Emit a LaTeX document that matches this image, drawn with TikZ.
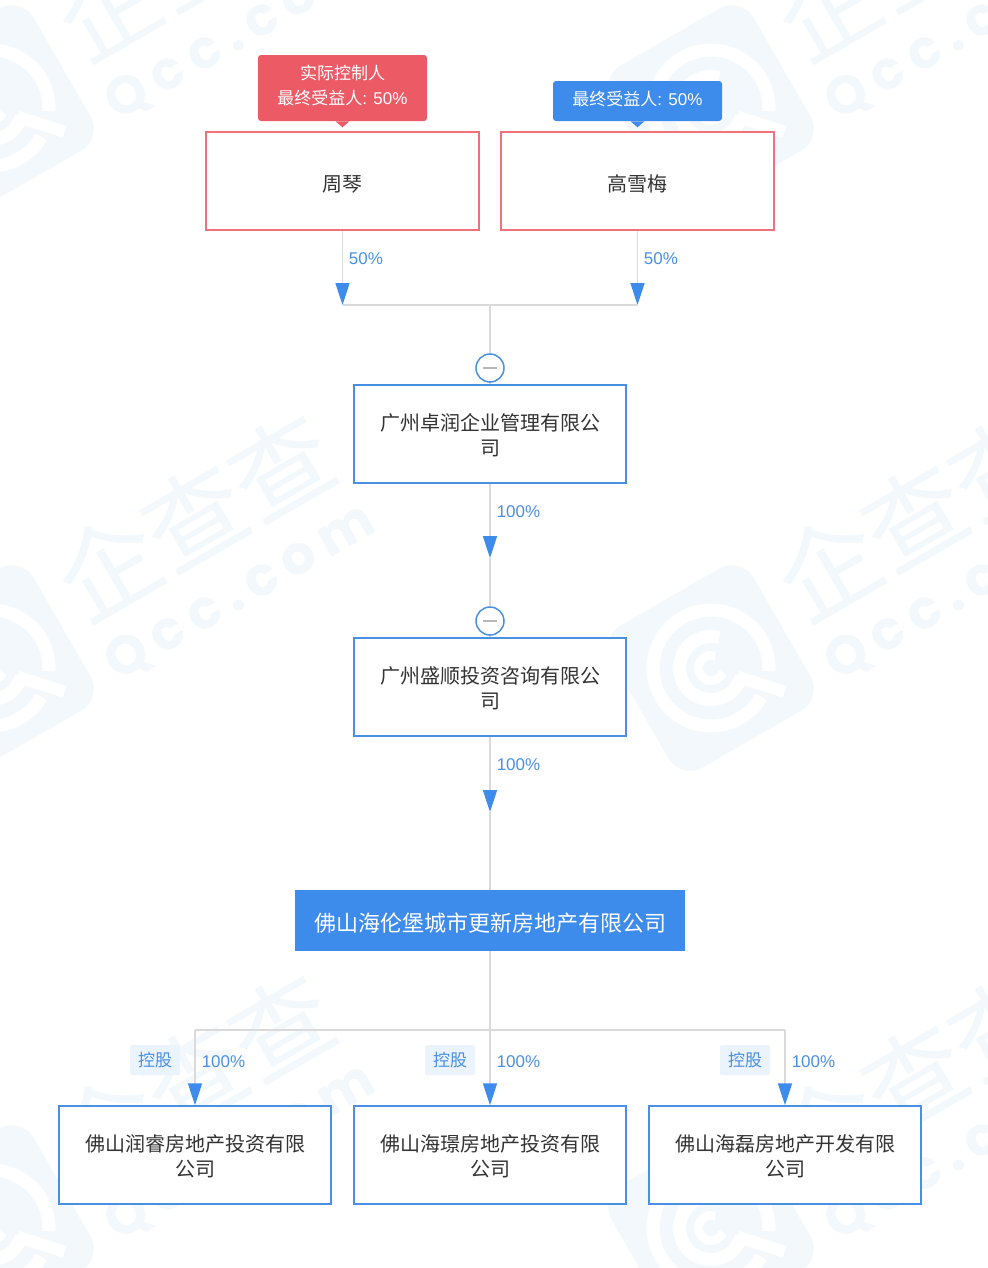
\documentclass[tikz,border=0pt]{standalone}
\usepackage{fontspec}
\setmainfont{Liberation Sans}
\newfontfamily\cjk{Noto Sans CJK SC}
\newfontfamily\qccfont[LetterSpace=18]{Poppins}
\usetikzlibrary{positioning}
\usetikzlibrary{arrows.meta}
\pgfdeclarelayer{markbg}
\pgfdeclarelayer{linkbg}
\pgfsetlayers{markbg,linkbg,main}
\definecolor{paleblue}{HTML}{F3F8FD}
\definecolor{boxblue}{HTML}{4A90E2}
\definecolor{tipblue}{HTML}{3D8BEA}
\definecolor{boxred}{HTML}{F0717D}
\definecolor{tagred}{HTML}{EC5A66}
\definecolor{linegray}{HTML}{DADADA}
\definecolor{minusgray}{HTML}{B8B8B8}
\definecolor{badgeblue}{HTML}{EBF3FC}
\tikzset{
	namebox/.style={line width=1.125pt, fill=white, minimum height=73.5pt, inner sep=0pt, align=center, text=black!80, font=\fontsize{15}{18.75}\selectfont\cjk},
	companybox/.style={namebox, draw=boxblue, minimum width=204pt, execute at begin node={\rule{0pt}{33.5pt}}},
	personbox/.style={namebox, draw=boxred, minimum width=204.75pt, execute at begin node={\rule{0pt}{17pt}}},
	targetbox/.style={fill=tipblue, text=white, minimum width=292.5pt, minimum height=45.75pt, inner sep=0pt, font=\fontsize{16.5}{20}\selectfont\cjk, execute at begin node={\rule{0pt}{18pt}}},
	owntag/.style={rounded corners=2.25pt, minimum width=126.75pt, inner sep=0pt, align=center, text=white, font=\fontsize{12.75}{19}\selectfont, execute at end node={\rule[-4.5pt]{0pt}{0pt}}},
	ratiolabel/.style={text=boxblue, inner sep=0pt, font=\fontsize{12.75}{15}\selectfont},
	holdbadge/.style={fill=badgeblue, rounded corners=1.5pt, minimum width=37.5pt, minimum height=22.5pt, inner sep=0pt, text=boxblue, font=\fontsize{12.75}{15}\selectfont\cjk},
	foldnode/.style={circle, draw=boxblue, line width=1.125pt, fill=white, minimum size=21pt, inner sep=0pt},
	flowline/.style={draw=linegray, line width=1.2pt},
	flowarrow/.style={flowline, -{Triangle[color=tipblue, length=16.5pt, width=10.5pt]}},
	qccmark/.pic={
		\fill[paleblue, rounded corners=19pt, rotate=30] (-82,-82) rectangle (82,82);
		\draw[white, line width=9.75pt] (-3:43.5pt) arc (-3:330:43.5pt);
		\draw[white, line width=9.75pt] (75:23.6pt) arc (75:345:23.6pt);
		\draw[white, line width=6.5pt] (70:9.4pt) arc (70:340:9.4pt);
		\draw[white, line width=9pt] (-18:21pt) -- (-18:58pt);
	},
	qccword/.pic={
		\node[rotate=30, text=paleblue, font=\fontsize{75}{75}\selectfont\cjk] (wmword) at (0,0) {企查查};
		\node[rotate=30, text=paleblue, font=\fontsize{40}{40}\selectfont\qccfont\bfseries] (wmsite) at (46,-76) {Qcc.com};
	},
}
\begin{document}
\begin{tikzpicture}[x=0.75pt,y=0.75pt]
	\useasboundingbox (0,0) rectangle (988,-1268);
	\begin{pgfonlayer}{markbg}
		\fill[white] (0,0) rectangle (988,-1268);
		\foreach \wy in {0,-560,-1120} {
			\foreach \wx in {0,720} {
				\pic at (\wx-9,\wy-108) {qccmark};
				\pic at (\wx+194,\wy-516) {qccword};
				\pic at (\wx+194,\wy+44) {qccword};
			}
		}
	\end{pgfonlayer}
	% people
	\node[personbox] (zhou) at (342.5,-181) {周琴};
	\node[personbox] (gao) at (637.5,-181) {高雪梅};
	\node[owntag, fill=tagred, minimum height=49.5pt] (tagzhou) at (342.5,-88) {{\cjk 实际控制人}\\{\cjk 最终受益人}: 50\%};
	\node[owntag, fill=tipblue, minimum height=30pt] (taggao) at (637.5,-101) {{\cjk 最终受益人}: 50\%};
	\fill[tagred] ([xshift=-5.25pt]tagzhou.south) -- ([xshift=5.25pt]tagzhou.south) -- ([yshift=-4.5pt]tagzhou.south) -- cycle;
	\fill[tipblue] ([xshift=-5.25pt]taggao.south) -- ([xshift=5.25pt]taggao.south) -- ([yshift=-4.5pt]taggao.south) -- cycle;
	% middle chain
	\node[companybox] (zhuo) at (490,-434) {广州卓润企业管理有限公\\司};
	\node[companybox] (sheng) at (490,-687) {广州盛顺投资咨询有限公\\司};
	\node[targetbox] (main) at (490,-920.5) {佛山海伦堡城市更新房地产有限公司};
	\node[foldnode] (fold1) at (490,-368) {};
	\node[foldnode] (fold2) at (490,-621) {};
	\draw[minusgray, line width=1.125pt] ([xshift=-5.25pt]fold1.center) -- ([xshift=5.25pt]fold1.center);
	\draw[minusgray, line width=1.125pt] ([xshift=-5.25pt]fold2.center) -- ([xshift=5.25pt]fold2.center);
	% subsidiaries
	\node[companybox] (rui) at (195,-1155) {佛山润睿房地产投资有限\\公司};
	\node[companybox] (jing) at (490,-1155) {佛山海璟房地产投资有限\\公司};
	\node[companybox] (lei) at (785,-1155) {佛山海磊房地产开发有限\\公司};
	\coordinate (joinz) at (342.5,-305);
	\coordinate (joing) at (637.5,-305);
	\coordinate (joinm) at (490,-305);
	\coordinate (tipzhuo) at (490,-558);
	\coordinate (tipsheng) at (490,-812);
	\coordinate (busl) at (195,-1030);
	\coordinate (busm) at (490,-1030);
	\coordinate (busr) at (785,-1030);
	\begin{pgfonlayer}{linkbg}
		\draw[flowarrow] (zhou) -- (joinz);
		\draw[flowarrow] (gao) -- (joing);
		\draw[flowline] (joinz) -- (joing);
		\draw[flowline] (joinm) -- (zhuo);
		\draw[flowarrow] (zhuo) -- (tipzhuo);
		\draw[flowline] (tipzhuo) -- (sheng);
		\draw[flowarrow] (sheng) -- (tipsheng);
		\draw[flowline] (tipsheng) -- (main);
		\draw[flowline] (main) -- (busm);
		\draw[flowline] (busl) -- (busr);
		\draw[flowarrow] (busl) -- (rui.north);
		\draw[flowarrow] (busm) -- (jing.north);
		\draw[flowarrow] (busr) -- (lei.north);
	\end{pgfonlayer}
	% labels
	\node[ratiolabel] (rz) at (366,-258.5) {50\%};
	\node[ratiolabel] (rg) at (661,-258.5) {50\%};
	\node[ratiolabel] (rzhuo) at (518.5,-511.5) {100\%};
	\node[ratiolabel] (rsheng) at (518.5,-764.5) {100\%};
	\node[ratiolabel] (rrui) at (223.5,-1061.5) {100\%};
	\node[ratiolabel] (rjing) at (518.5,-1061.5) {100\%};
	\node[ratiolabel] (rlei) at (813.5,-1061.5) {100\%};
	\node[holdbadge] (hrui) at (155,-1060) {控股};
	\node[holdbadge] (hjing) at (450,-1060) {控股};
	\node[holdbadge] (hlei) at (745,-1060) {控股};
\end{tikzpicture}
\end{document}
